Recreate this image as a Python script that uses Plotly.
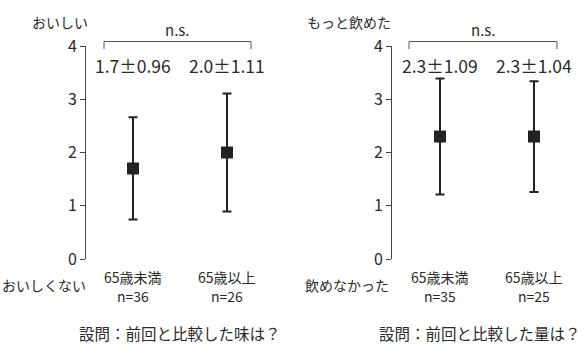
import plotly.graph_objects as go

# ---- data ----
categories = ["65歳未満", "65歳以上"]
taste_n = [36, 26]
taste_mean = [1.7, 2.0]
taste_sd = [0.96, 1.11]
amount_n = [35, 25]
amount_mean = [2.3, 2.3]
amount_sd = [1.09, 1.04]
y_ticks = [0, 1, 2, 3, 4]

W, H = 585, 344
FONT = "Noto Sans CJK JP"
TXT = "#2a2a2a"
INK = "#222222"

def px(x):
    return x / W

def py(y):
    return 1 - y / H

fig = go.Figure()

panels = [
    dict(xa="x", ya="y", mean=taste_mean, sd=taste_sd, n=taste_n,
         top="おいしい", bottom="おいしくない", title="設問：前回と比較した味は？",
         top_r=90, bot_r=88),
    dict(xa="x2", ya="y2", mean=amount_mean, sd=amount_sd, n=amount_n,
         top="もっと飲めた", bottom="飲めなかった", title="設問：前回と比較した量は？",
         top_r=393, bot_r=391),
]

for p in panels:
    fig.add_trace(go.Scatter(
        x=categories, y=p["mean"], xaxis=p["xa"], yaxis=p["ya"],
        mode="markers",
        marker=dict(symbol="square", size=12, color=INK, line=dict(width=0)),
        error_y=dict(type="data", array=p["sd"], visible=True,
                     thickness=2, width=4.5, color=INK),
        showlegend=False, hoverinfo="skip", cliponaxis=False,
    ))

# axis geometry (pixels)
left_axis_px, right_axis_px = 86, 392
cat_step = 94.0
left_cat0, right_cat0 = 133, 440
plot_top, plot_bot = 46, 259

def xrange(axis_px, cat0, end_px):
    return [(axis_px - cat0) / cat_step, (end_px - cat0) / cat_step]

common_y = dict(range=[0, 4], tickvals=y_ticks, ticks="outside", ticklen=5,
                tickcolor="#444", tickwidth=1, showline=True, linecolor="#444",
                linewidth=1, showgrid=False, zeroline=False, automargin=False,
                tickfont=dict(family=FONT, size=16, color=TXT),
                ticklabelstandoff=0, fixedrange=True)

fig.update_layout(
    template="none",
    width=W, height=H,
    margin=dict(l=0, r=0, t=0, b=0, pad=0),
    paper_bgcolor="white", plot_bgcolor="white",
    font=dict(family=FONT, color=TXT),
    xaxis=dict(domain=[px(left_axis_px), px(285)], type="category",
               categoryorder="array", categoryarray=categories, automargin=False,
               range=xrange(left_axis_px, left_cat0, 285), visible=False, fixedrange=True),
    yaxis=dict(domain=[py(plot_bot), py(plot_top)], anchor="x", **common_y),
    xaxis2=dict(domain=[px(right_axis_px), 1.0], type="category",
                categoryorder="array", categoryarray=categories, automargin=False,
                range=xrange(right_axis_px, right_cat0, W), visible=False, fixedrange=True),
    yaxis2=dict(domain=[py(plot_bot), py(plot_top)], anchor="x2", **common_y),
    hovermode=False,
)

ann = []
shapes = []
for i, p in enumerate(panels):
    xa, ya = p["xa"], p["ya"]
    # mean ± sd labels
    for c, m, s in zip(categories, p["mean"], p["sd"]):
        ann.append(dict(x=c, y=4, xref=xa, yref=ya, yshift=-19,
                        text=f"{m:.1f}±{s:.2f}", showarrow=False,
                        xanchor="center", yanchor="middle",
                        font=dict(family=FONT, size=17.5, color=TXT)))
    # category labels
    for c, n in zip(categories, p["n"]):
        ann.append(dict(x=c, y=0, xref=xa, yref=ya, yshift=-18,
                        text=c, showarrow=False, xanchor="center", yanchor="middle",
                        font=dict(family=FONT, size=14, color=TXT)))
        ann.append(dict(x=c, y=0, xref=xa, yref=ya, yshift=-37,
                        text=f"n={n}", showarrow=False, xanchor="center", yanchor="middle",
                        font=dict(family=FONT, size=14, color=TXT)))
    # end labels
    ann.append(dict(x=px(p["top_r"]), y=py(22), xref="paper", yref="paper",
                    text=p["top"], showarrow=False, xanchor="right", yanchor="middle",
                    font=dict(family=FONT, size=14, color=TXT)))
    ann.append(dict(x=px(p["bot_r"]), y=py(285), xref="paper", yref="paper",
                    text=p["bottom"], showarrow=False, xanchor="right", yanchor="middle",
                    font=dict(family=FONT, size=14, color=TXT)))
    # question title
    cx = 180 if i == 0 else 480
    ann.append(dict(x=px(cx), y=py(333), xref="paper", yref="paper",
                    text=p["title"], showarrow=False, xanchor="center", yanchor="middle",
                    font=dict(family=FONT, size=15.5, color=TXT)))
    # significance bracket
    bx0 = 104 if i == 0 else 409
    bx1 = 251 if i == 0 else 557
    shapes.append(dict(type="path", xref="paper", yref="paper",
                       path=f"M {px(bx0)},{py(49)} L {px(bx0)},{py(41.5)} L {px(bx1)},{py(41.5)} L {px(bx1)},{py(49)}",
                       line=dict(color="#555", width=1)))
    ann.append(dict(x=px((bx0 + bx1) / 2), y=py(29), xref="paper", yref="paper",
                    text="n.s.", showarrow=False, xanchor="center", yanchor="middle",
                    font=dict(family=FONT, size=15, color=TXT)))

fig.update_layout(annotations=ann, shapes=shapes)
fig.write_html("out.html", config={"displayModeBar": False, "staticPlot": True},
               post_script="document.body.style.margin='0';")
